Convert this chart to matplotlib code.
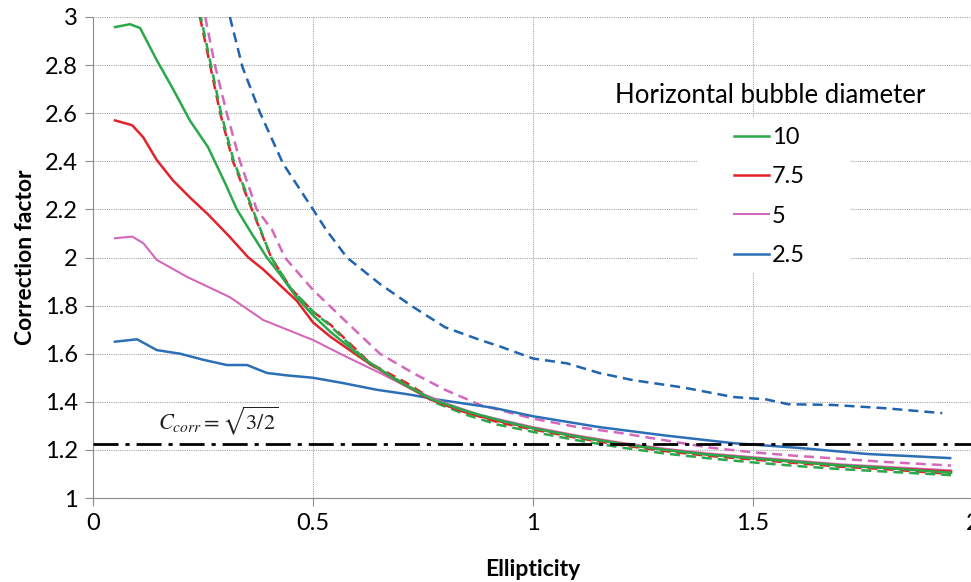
import matplotlib
matplotlib.use("Agg")
import matplotlib.pyplot as plt
from matplotlib.patches import Rectangle

# data (ellipticity, correction factor)
green_x = [0.05, 0.084, 0.107, 0.145, 0.182, 0.22, 0.261, 0.30, 0.327, 0.357, 0.395, 0.425, 0.46, 0.50, 0.54, 0.615, 0.69, 0.77, 0.85, 0.93, 1.0, 1.1, 1.2, 1.3, 1.4, 1.5, 1.6, 1.7, 1.8, 1.95]
green_y = [2.958, 2.97, 2.954, 2.82, 2.70, 2.57, 2.46, 2.31, 2.20, 2.11, 2.00, 1.93, 1.84, 1.76, 1.69, 1.58, 1.49, 1.41, 1.36, 1.32, 1.29, 1.255, 1.225, 1.20, 1.18, 1.165, 1.15, 1.135, 1.125, 1.105]

red_x = [0.05, 0.089, 0.114, 0.145, 0.182, 0.22, 0.261, 0.311, 0.353, 0.387, 0.463, 0.5, 0.54, 0.615, 0.69, 0.766, 0.84, 0.92, 1.0, 1.1, 1.2, 1.3, 1.4, 1.5, 1.6, 1.7, 1.8, 1.95]
red_y = [2.57, 2.55, 2.50, 2.405, 2.32, 2.25, 2.18, 2.085, 2.00, 1.95, 1.82, 1.73, 1.67, 1.575, 1.49, 1.41, 1.36, 1.32, 1.29, 1.255, 1.225, 1.20, 1.18, 1.165, 1.15, 1.135, 1.125, 1.11]

pink_x = [0.05, 0.089, 0.114, 0.145, 0.213, 0.311, 0.387, 0.5, 0.577, 0.652, 0.727, 0.80, 0.88, 1.0, 1.1, 1.2, 1.3, 1.4, 1.5, 1.6, 1.7, 1.8, 1.95]
pink_y = [2.08, 2.087, 2.06, 1.99, 1.92, 1.835, 1.74, 1.657, 1.586, 1.52, 1.45, 1.395, 1.345, 1.295, 1.26, 1.23, 1.205, 1.185, 1.17, 1.155, 1.14, 1.13, 1.115]

blue_x = [0.05, 0.1, 0.145, 0.198, 0.25, 0.304, 0.35, 0.395, 0.44, 0.5, 0.568, 0.645, 0.72, 0.78, 0.91, 1.0, 1.15, 1.30, 1.455, 1.607, 1.76, 1.948]
blue_y = [1.65, 1.66, 1.615, 1.60, 1.575, 1.553, 1.553, 1.52, 1.51, 1.50, 1.478, 1.45, 1.43, 1.41, 1.375, 1.34, 1.295, 1.26, 1.228, 1.208, 1.183, 1.166]

green_d_x = [0.245, 0.268, 0.291, 0.32, 0.363, 0.405, 0.45, 0.5, 0.54, 0.63, 0.713, 0.78, 0.85, 0.92, 1.0, 1.1, 1.2, 1.3, 1.4, 1.5, 1.6, 1.7, 1.8, 1.95]
green_d_y = [3.0, 2.8, 2.6, 2.4, 2.2, 2.0, 1.87, 1.775, 1.715, 1.555, 1.47, 1.395, 1.345, 1.305, 1.275, 1.24, 1.21, 1.185, 1.165, 1.148, 1.133, 1.12, 1.11, 1.095]

red_d_x = [0.243, 0.266, 0.289, 0.318, 0.361, 0.405, 0.45, 0.50, 0.54, 0.63, 0.713, 0.78, 0.85, 0.92, 1.0, 1.1, 1.2, 1.3, 1.4, 1.5, 1.6, 1.7, 1.8, 1.95]
red_d_y = [3.0, 2.8, 2.6, 2.4, 2.2, 2.0, 1.87, 1.775, 1.72, 1.56, 1.478, 1.40, 1.355, 1.315, 1.285, 1.25, 1.22, 1.195, 1.175, 1.16, 1.145, 1.13, 1.12, 1.10]

pink_d_x = [0.255, 0.277, 0.304, 0.334, 0.372, 0.407, 0.436, 0.5, 0.577, 0.652, 0.727, 0.80, 0.88, 1.0, 1.1, 1.2, 1.3, 1.4, 1.5, 1.6, 1.7, 1.8, 1.95]
pink_d_y = [3.0, 2.8, 2.6, 2.4, 2.2, 2.115, 2.0, 1.865, 1.73, 1.60, 1.52, 1.45, 1.387, 1.33, 1.295, 1.27, 1.24, 1.21, 1.19, 1.175, 1.163, 1.15, 1.135]

blue_d_x = [0.311, 0.34, 0.38, 0.432, 0.5, 0.53, 0.577, 0.652, 0.727, 0.80, 0.88, 0.925, 1.0, 1.077, 1.15, 1.227, 1.34, 1.455, 1.53, 1.58, 1.68, 1.795, 1.93]
blue_d_y = [3.0, 2.79, 2.60, 2.39, 2.20, 2.115, 2.0, 1.89, 1.795, 1.71, 1.657, 1.63, 1.58, 1.56, 1.52, 1.49, 1.46, 1.42, 1.41, 1.39, 1.387, 1.374, 1.353]

c_corr = 1.5 ** 0.5
labels = ['10', '7.5', '5', '2.5']
xticks = [0, 0.5, 1, 1.5, 2]
yticks = [1, 1.2, 1.4, 1.6, 1.8, 2, 2.2, 2.4, 2.6, 2.8, 3]

GREEN = '#2aa84a'
RED = '#e3232b'
PINK = '#d468bb'
BLUE = '#2b6fb6'
BLUE_D = '#1f64ad'

plt.rcParams['font.family'] = ['Lato', 'DejaVu Sans']
plt.rcParams['mathtext.fontset'] = 'stix'

fig = plt.figure(figsize=(9.71, 5.82), dpi=100)
ax = fig.add_axes([0.0958, 0.1443, 0.9063, 0.8265])

dash = (0, (4, 2.4))
ax.plot(blue_d_x, blue_d_y, color=BLUE_D, lw=1.8, ls=dash, zorder=3)
ax.plot(pink_d_x, pink_d_y, color=PINK, lw=1.8, ls=dash, zorder=3)
ax.plot(red_d_x, red_d_y, color=RED, lw=1.8, ls=dash, zorder=3)
ax.plot(green_d_x, green_d_y, color=GREEN, lw=1.8, ls=(2.2, (4, 2.4)), zorder=3)

l_blue, = ax.plot(blue_x, blue_y, color=BLUE, lw=1.8, zorder=4)
l_pink, = ax.plot(pink_x, pink_y, color=PINK, lw=1.5, zorder=4)
l_red, = ax.plot(red_x, red_y, color=RED, lw=1.8, zorder=4)
l_green, = ax.plot(green_x, green_y, color=GREEN, lw=1.8, zorder=4)

ax.axhline(c_corr, color='black', lw=2.0, ls=(0, (9, 2.5, 1.5, 2.5)), zorder=5)
ax.text(0.284, 1.255, r'$C_{corr}=\sqrt{3/2}$', fontsize=16, ha='center', va='bottom', color='#222222')

ax.set_xlim(0, 2)
ax.set_ylim(1, 3)
ax.set_xticks(xticks)
ax.set_xticklabels(['0', '0.5', '1', '1.5', '2'])
ax.set_yticks(yticks)
ax.set_yticklabels(['1', '1.2', '1.4', '1.6', '1.8', '2', '2.2', '2.4', '2.6', '2.8', '3'])
ax.tick_params(labelsize=17, length=6, color='#8c8c8c', width=0.8, pad=5)
ax.grid(True, color='#a5a5a5', lw=0.8, ls=(0, (1, 1)))
ax.set_axisbelow(True)
for s in ['top', 'right']:
    ax.spines[s].set_visible(False)
for s in ['left', 'bottom']:
    ax.spines[s].set_color('#8c8c8c')
    ax.spines[s].set_linewidth(0.8)

ax.set_xlabel('Ellipticity', fontsize=16.5, fontweight='bold', labelpad=18)
ax.set_ylabel('Correction factor', fontsize=16.5, fontweight='bold', labelpad=6)

# white patch behind the legend entries
ax.add_patch(Rectangle((0.686, 0.47), 0.174, 0.32, transform=ax.transAxes,
                       facecolor='white', edgecolor='none', zorder=1))
leg = ax.legend([l_green, l_red, l_pink, l_blue], labels, title='Horizontal bubble diameter',
                loc='upper center', bbox_to_anchor=(0.769, 0.906), frameon=False,
                fontsize=17, title_fontsize=18.5, handlelength=1.45, handletextpad=0.15,
                labelspacing=0.78)

fig.savefig('out.png', dpi=100)
